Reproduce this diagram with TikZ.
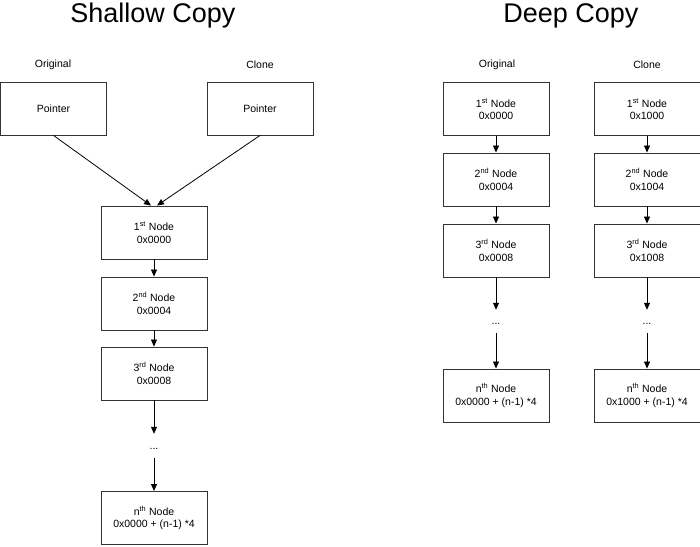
\documentclass[tikz,border=0pt]{standalone}
\usepackage{fontspec}
\setmainfont{Liberation Sans}
\usetikzlibrary{arrows.meta}
\definecolor{boxgray}{HTML}{333333}
\tikzset{
  box/.style={draw=boxgray, line width=0.9pt, minimum width=106pt, minimum height=53pt, align=center, font=\fontsize{10.5}{12.5}\selectfont, inner sep=0pt},
  lbl/.style={font=\fontsize{10.5}{12.5}\selectfont},
  title/.style={font=\fontsize{27}{31}\selectfont},
  gap/.style={font=\fontsize{10.5}{12.5}\selectfont, inner sep=0pt},
  arr/.style={-{Triangle[width=6pt,length=7pt]}, line width=0.8pt, black}
}
\newcommand{\lowdots}{\smash{\raisebox{-3pt}{...}}}
\begin{document}
\begin{tikzpicture}[x=1pt,y=-1pt]
\useasboundingbox (0,0) rectangle (700,546);
% titles
\node[title] (tshallow) at (153,16) {Shallow Copy};
\node[title] (tdeep) at (571,16) {Deep Copy};
% shallow copy
\node[lbl] (sorig) at (53,65) {Original};
\node[lbl] (sclone) at (260,65) {Clone};
\node[box] (sp1) at (53.5,108.5) {Pointer};
\node[box] (sp2) at (260,108.5) {Pointer};
\node[box] (s1) at (154,232.5) {1\textsuperscript{st} Node\\0x0000};
\node[box] (s2) at (154,303.5) {2\textsuperscript{nd} Node\\0x0004};
\node[box] (s3) at (154,373.5) {3\textsuperscript{rd} Node\\0x0008};
\node[gap, minimum height=24pt] (sdots) at (154,446) {\lowdots};
\node[box] (sn) at (154,518) {n\textsuperscript{th} Node\\0x0000 + (n-1) *4};
\draw[arr] (sp1.south) -- ([xshift=-3pt]s1.north);
\draw[arr] (sp2.south) -- ([xshift=3pt]s1.north);
\draw[arr] (s1) -- (s2);
\draw[arr] (s2) -- (s3);
\draw[arr] (s3) -- (sdots);
\draw[arr] (sdots) -- (sn);
% deep copy, original
\node[lbl] (dorig) at (497,65) {Original};
\node[box] (a1) at (496,109) {1\textsuperscript{st} Node\\0x0000};
\node[box] (a2) at (496,179.5) {2\textsuperscript{nd} Node\\0x0004};
\node[box] (a3) at (496,250.5) {3\textsuperscript{rd} Node\\0x0008};
\node[gap, minimum height=23pt] (adots) at (496,321.5) {\lowdots};
\node[box] (an) at (496,395.5) {n\textsuperscript{th} Node\\0x0000 + (n-1) *4};
\draw[arr] (a1) -- (a2);
\draw[arr] (a2) -- (a3);
\draw[arr] (a3) -- (adots);
\draw[arr] (adots) -- (an);
% deep copy, clone
\node[lbl] (dclone) at (647,65) {Clone};
\node[box] (b1) at (647,109) {1\textsuperscript{st} Node\\0x1000};
\node[box] (b2) at (647,179.5) {2\textsuperscript{nd} Node\\0x1004};
\node[box] (b3) at (647,250.5) {3\textsuperscript{rd} Node\\0x1008};
\node[gap, minimum height=23pt] (bdots) at (647,321.5) {\lowdots};
\node[box] (bn) at (647,395.5) {n\textsuperscript{th} Node\\0x1000 + (n-1) *4};
\draw[arr] (b1) -- (b2);
\draw[arr] (b2) -- (b3);
\draw[arr] (b3) -- (bdots);
\draw[arr] (bdots) -- (bn);
\end{tikzpicture}
\end{document}
